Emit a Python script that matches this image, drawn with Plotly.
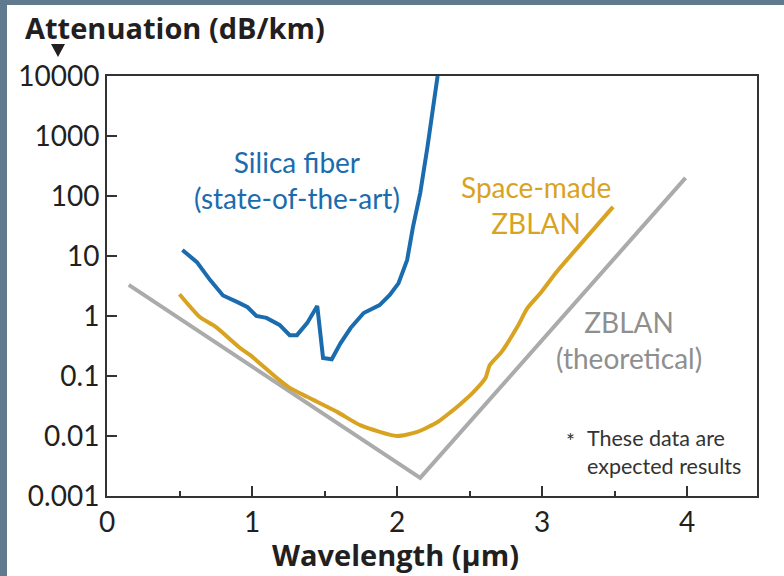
import plotly.graph_objects as go

# Wavelength (µm) and attenuation (dB/km) for each curve
silica_wl = [0.52, 0.62, 0.71, 0.80, 0.90, 0.97, 1.03, 1.10, 1.19, 1.26, 1.31, 1.38, 1.45,
             1.49, 1.55, 1.61, 1.68, 1.77, 1.88, 1.95, 2.01, 2.07, 2.11, 2.16, 2.21, 2.25, 2.28]
silica_att = [12.6, 7.9, 4.0, 2.2, 1.7, 1.4, 1.0, 0.93, 0.71, 0.48, 0.48, 0.76, 1.47,
              0.20, 0.19, 0.35, 0.63, 1.12, 1.52, 2.24, 3.5, 8.6, 30.4, 112, 656, 2710, 10000]

zblan_wl = [0.50, 0.64, 0.75, 0.92, 0.99, 1.17, 1.25, 1.38, 1.59, 1.75, 2.00, 2.14, 2.28,
            2.37, 2.43, 2.52, 2.61, 2.64, 2.72, 2.83, 2.90, 2.99, 3.10, 3.26, 3.49]
zblan_att = [2.3, 0.96, 0.66, 0.29, 0.22, 0.093, 0.066, 0.045, 0.025, 0.015, 0.010, 0.0117,
             0.0171, 0.025, 0.033, 0.052, 0.093, 0.152, 0.25, 0.66, 1.36, 2.42, 5.4, 15.2, 66]

theory_wl = [0.15, 2.16, 3.99]
theory_att = [3.3, 0.0020, 200]

y_ticks = [0.001, 0.01, 0.1, 1, 10, 100, 1000, 10000]
y_labels = ["0.001", "0.01", "0.1", "1", "10", "100", "1000", "10000"]
x_ticks = [0, 1, 2, 3, 4]

BLUE = "#1b6cae"
GOLD = "#d9a322"
GRAY = "#ababab"
FRAME = "#5f7a8e"
INK = "#231f20"

fig = go.Figure()
fig.add_trace(go.Scatter(x=theory_wl, y=theory_att, mode="lines",
                         line=dict(color=GRAY, width=4)))
fig.add_trace(go.Scatter(x=zblan_wl, y=zblan_att, mode="lines",
                         line=dict(color=GOLD, width=4, shape="spline", smoothing=0.6)))
fig.add_trace(go.Scatter(x=silica_wl, y=silica_att, mode="lines",
                         line=dict(color=BLUE, width=4)))

L, R, T, B = 107, 27, 76, 80
W, H = 784, 576
pw, ph = W - L - R, H - T - B


def px(xp):
    return (xp - L) / pw


def py(yp):
    return (H - B - yp) / ph


shapes = [
    # slate frame strips along the left and top edges
    dict(type="rect", xref="paper", yref="paper", x0=px(0), x1=px(7), y0=py(H), y1=py(0),
         fillcolor=FRAME, line_width=0, layer="below"),
    dict(type="rect", xref="paper", yref="paper", x0=px(0), x1=px(W), y0=py(5), y1=py(0),
         fillcolor=FRAME, line_width=0, layer="below"),
    # small pointer under the axis title
    dict(type="path", xref="paper", yref="paper",
         path=f"M {px(51)} {py(44)} L {px(65)} {py(44)} L {px(58)} {py(57)} Z",
         fillcolor=INK, line_width=0),
]

text_font = "Lato"


def note(text, x, y, size, color, xanchor="center", family=text_font, align="center"):
    return dict(text=text, xref="paper", yref="paper", x=px(x), y=py(y),
                xanchor=xanchor, yanchor="middle", align=align, showarrow=False,
                font=dict(size=size, color=color, family=family))


annotations = [
    note("<b>Attenuation (dB/km)</b>", 23, 28, 29, INK, xanchor="left", family="Open Sans"),
    note("<b>Wavelength (µm)</b>", 395, 554, 29, INK, family="Open Sans"),
    note("Silica fiber<br>(state-of-the-art)", 297, 180, 28, BLUE),
    note("Space-made<br>ZBLAN", 536, 205, 28, GOLD),
    note("ZBLAN<br>(theoretical)", 629, 340, 28, "#8f8f8f"),
    note("*", 570, 440, 21, "#333333"),
    note("These data are<br>expected results", 585, 452, 21.5, "#333333",
         xanchor="left", align="left"),
]

fig.update_layout(
    width=W, height=H,
    margin=dict(l=L, r=R, t=T, b=B),
    paper_bgcolor="white", plot_bgcolor="white",
    showlegend=False,
    shapes=shapes,
    annotations=annotations,
    font=dict(family=text_font, color=INK),
)

fig.update_xaxes(
    range=[0, (W - L - R) / 145.0], tickvals=x_ticks, ticktext=[str(v) for v in x_ticks],
    ticks="inside", ticklen=10, tickwidth=1.5, tickcolor="#333333",
    minor=dict(dtick=0.5, ticks="inside", ticklen=5, tickwidth=1.5, tickcolor="#333333"),
    showline=True, linecolor="#333333", linewidth=2, mirror=True,
    showgrid=False, zeroline=False,
    tickfont=dict(size=28, color=INK, family=text_font),
)
fig.update_yaxes(
    type="log", range=[-3, 4], tickvals=y_ticks, ticktext=y_labels,
    ticks="inside", ticklen=10, tickwidth=1.5, tickcolor="#333333",
    showline=True, linecolor="#333333", linewidth=2, mirror=True,
    showgrid=False, zeroline=False,
    tickfont=dict(size=28, color=INK, family=text_font),
)

fig.write_html("out.html")
